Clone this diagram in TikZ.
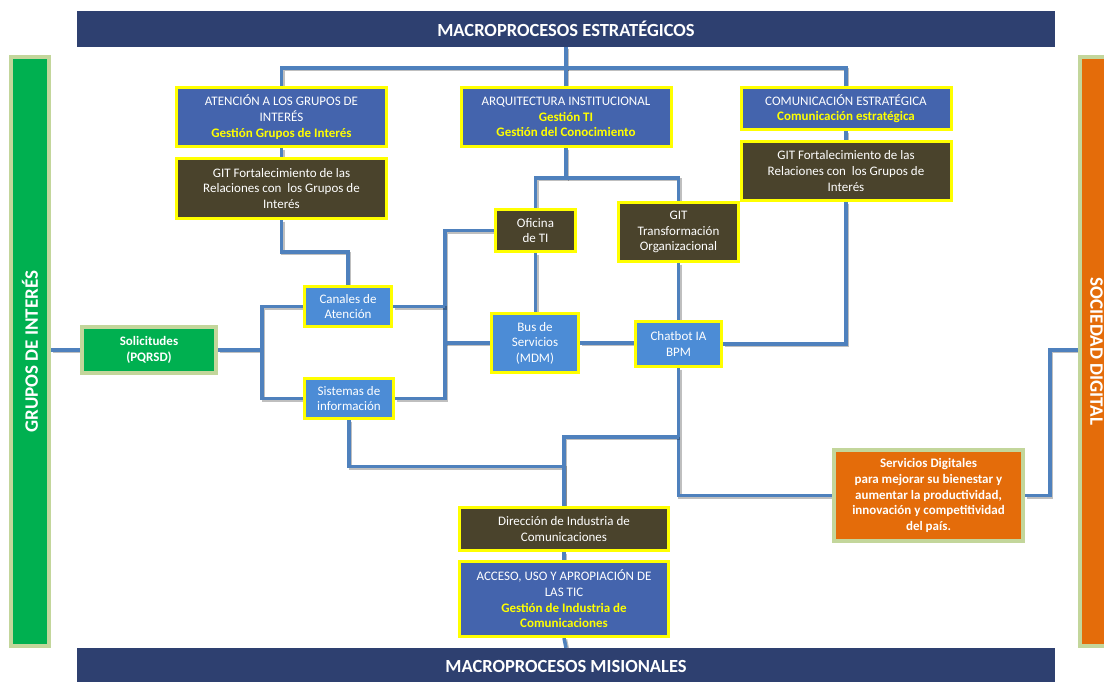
\documentclass[tikz,border=0pt]{standalone}
\usepackage{fontspec}
\setmainfont{Carlito}
\definecolor{navy}{RGB}{46,64,112}
\definecolor{procblue}{RGB}{68,100,173}
\definecolor{sysblue}{RGB}{76,140,214}
\definecolor{olive}{RGB}{74,67,44}
\definecolor{brightyellow}{RGB}{255,255,0}
\definecolor{stakegreen}{RGB}{0,176,80}
\definecolor{palegreen}{RGB}{195,214,155}
\definecolor{socorange}{RGB}{228,108,10}
\definecolor{wireblue}{RGB}{79,129,189}
\pgfdeclarelayer{paper}
\pgfdeclarelayer{wires}
\pgfsetlayers{paper,wires,main}
\newcommand{\boxfont}{\fontsize{13}{15.6}\selectfont}
\newcommand{\hl}[1]{\textcolor{brightyellow}{\bfseries #1}}
\begin{document}
\begin{tikzpicture}[x=1pt,y=-1pt,
  banner/.style={fill=navy, text=white, minimum width=978pt, minimum height=36pt,
    inner sep=0pt, font=\fontsize{18.5}{20}\selectfont\bfseries},
  sidebar/.style={draw=palegreen, line width=4pt, text=white, inner sep=0pt,
    minimum width=589pt, font=\fontsize{19}{20}\selectfont\bfseries},
  framed/.style={draw=brightyellow, line width=3pt, text=white, align=center,
    inner sep=1pt, font=\boxfont},
  procbox/.style={framed, fill=procblue},
  sysbox/.style={framed, fill=sysblue},
  unitbox/.style={framed, fill=olive},
  outbox/.style={draw=palegreen, line width=4pt, text=white, align=center,
    inner sep=1pt, font=\boxfont\bfseries},
  wire/.style={draw=wireblue, line width=3.5pt,
    preaction={draw=black, opacity=.25, line width=3.5pt,
      transform canvas={shift={(1.5pt,-1.5pt)}}}}
]
\useasboundingbox (0,0) rectangle (1104,681);
\begin{pgfonlayer}{paper}
  \fill[white] (0,0) rectangle (1104,681);
\end{pgfonlayer}

% banners and side bars
\node[banner] (T) at (566,29) {MACROPROCESOS ESTRATÉGICOS};
\node[banner] (B) at (566,666) {MACROPROCESOS MISIONALES};
\node[sidebar, fill=stakegreen, minimum height=38pt, rotate=90] (GL) at (30,351.5) {GRUPOS DE INTERÉS};
\node[sidebar, fill=socorange, minimum height=34pt, rotate=-90] (OR) at (1096.5,351.5) {SOCIEDAD DIGITAL};

% strategic processes
\node[procbox, minimum width=210pt, minimum height=59pt] (A1) at (281.5,117)
  {ATENCIÓN A LOS GRUPOS DE\\INTERÉS\\\hl{Gestión Grupos de Interés}};
\node[procbox, minimum width=210pt, minimum height=59pt] (A2) at (566,117)
  {ARQUITECTURA INSTITUCIONAL\\\hl{Gestión TI}\\\hl{Gestión del Conocimiento}};
\node[procbox, minimum width=210pt, minimum height=42pt] (A3) at (846,108.5)
  {COMUNICACIÓN ESTRATÉGICA\\\hl{Comunicación estratégica}};

% working groups
\node[unitbox, minimum width=210pt, minimum height=60pt] (G1) at (281.5,188.5)
  {GIT Fortalecimiento de las\\Relaciones con\ \ los Grupos de\\Interés};
\node[unitbox, minimum width=210pt, minimum height=59pt] (G3) at (846,171)
  {GIT Fortalecimiento de las\\Relaciones con\ \ los Grupos de\\Interés};
\node[unitbox, minimum width=80pt, minimum height=42pt] (OF) at (535.5,230.5)
  {Oficina\\de TI};
\node[unitbox, minimum width=120pt, minimum height=59pt] (GT) at (678.5,232)
  {GIT\\Transformación\\Organizacional};

% channels and systems
\node[sysbox, minimum width=87pt, minimum height=40pt] (CA) at (348,306.5)
  {Canales de\\Atención};
\node[sysbox, minimum width=89pt, minimum height=40pt] (SI) at (349,398.5)
  {Sistemas de\\información};
\node[sysbox, minimum width=87pt, minimum height=59pt] (BS) at (535,343)
  {Bus de\\Servicios\\(MDM)};
\node[sysbox, minimum width=86pt, minimum height=45pt] (CH) at (678.5,344)
  {Chatbot IA\\BPM};

% requests and outcomes
\node[outbox, fill=stakegreen, minimum width=134pt, minimum height=46pt] (SO) at (149,350)
  {Solicitudes\\(PQRSD)};
\node[outbox, fill=socorange, minimum width=189pt, minimum height=91pt] (SD) at (928.5,495.5)
  {Servicios Digitales\\para mejorar su bienestar y\\aumentar la productividad,\\innovación y competitividad\\del país.};

% missional processes
\node[unitbox, minimum width=209pt, minimum height=43pt] (DI) at (564,529)
  {Dirección de Industria de\\Comunicaciones};
\node[procbox, minimum width=209pt, minimum height=75pt] (AC) at (564,599)
  {ACCESO, USO Y APROPIACIÓN DE\\LAS TIC\\\hl{Gestión de Industria de}\\\hl{Comunicaciones}};

% junction points
\coordinate (topbus) at (0,68);
\coordinate (vx) at (445,0);
\coordinate (vs) at (262,0);
\coordinate (lowbus) at (0,437);
\coordinate (sdj) at (1050,350);
\coordinate (solrow) at (0,350);

\begin{pgfonlayer}{wires}
  \draw[wire] (T.south) -- (T.south |- topbus) -| (A1.north);
  \draw[wire] (T.south |- topbus) -| (A3.north);
  \draw[wire] (T.south |- topbus) -- (A2.north);
  \draw[wire] (A1.south) -- (G1.north);
  \draw[wire] (A3.south) -- (G3.north);
  \draw[wire] (G1.south) -- ++(0,32) -| (CA.north);
  \draw[wire] (A2.south) -- ++(0,30) coordinate (a2j) -| (OF.north);
  \draw[wire] (a2j) -| (GT.north);
  \draw[wire] (OF.west) -| (vx |- SI.east) -- (SI.east);
  \draw[wire] (CA.east) -- (CA.east -| vx);
  \draw[wire] (BS.west) -- (BS.west -| vx);
  \draw[wire] (OF.south) -- (OF.south |- BS.north);
  \draw[wire] (BS.east) -- (BS.east -| CH.west);
  \draw[wire] (GT.south) -- (CH.north);
  \draw[wire] (CH.east) -| (G3.south);
  \draw[wire] (CH.south) |- (SD.west);
  \draw[wire] (CH.south |- lowbus) -| (DI.north);
  \draw[wire] (SI.south) -- ++(0,46.5) -| (DI.north);
  \draw[wire] (SD.east) -| (sdj) -- (sdj -| OR.south);
  \draw[wire] (GL.south |- solrow) -- (SO.west);
  \draw[wire] (SO.east) -- (SO.east -| vs);
  \draw[wire] (CA.west) -| (vs |- SI.west) -- (SI.west);
  \draw[wire] (DI.south) -- (AC.north);
  \draw[wire] (AC.south) -- (B.north);
\end{pgfonlayer}
\end{tikzpicture}
\end{document}
